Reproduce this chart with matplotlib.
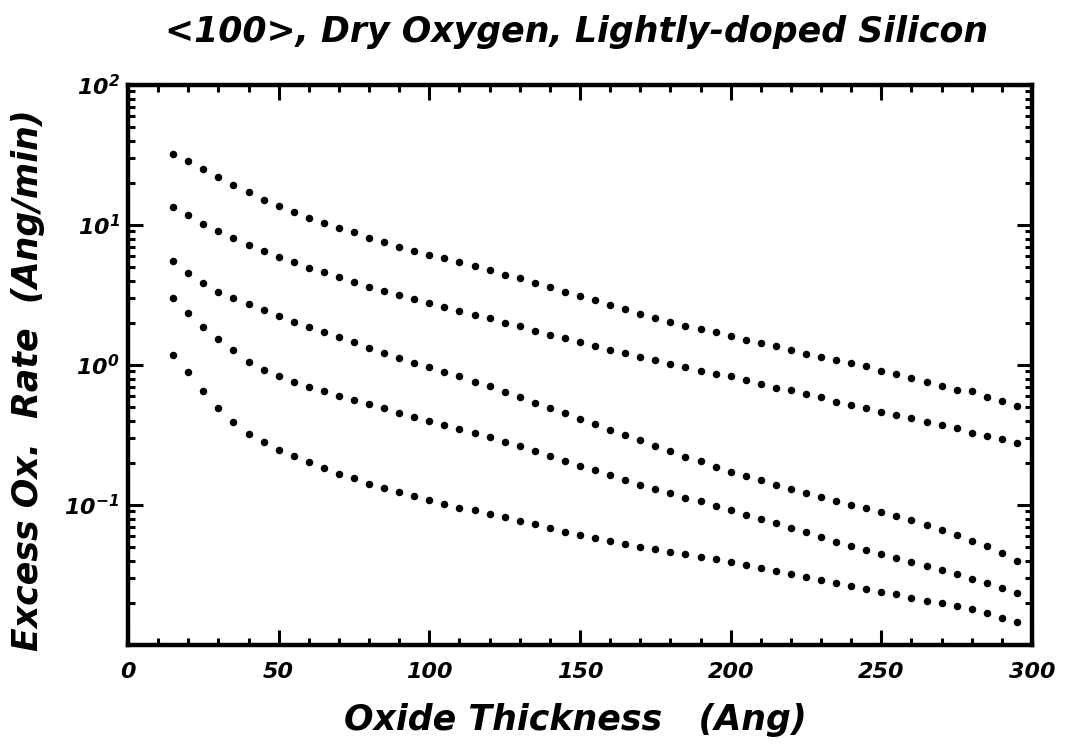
import numpy as np
import matplotlib
matplotlib.use("Agg")
import matplotlib.pyplot as plt
from matplotlib.ticker import MultipleLocator, LogLocator, NullFormatter

# plotter-style lettering: bold oblique everywhere, including the 10^n labels
plt.rcParams['font.family'] = ['DejaVu Sans']
plt.rcParams['font.weight'] = 'bold'
plt.rcParams['font.style'] = 'italic'
plt.rcParams['mathtext.fontset'] = 'custom'
plt.rcParams['mathtext.rm'] = 'DejaVu Sans:italic:bold'
plt.rcParams['mathtext.bf'] = 'DejaVu Sans:italic:bold'
plt.rcParams['mathtext.it'] = 'DejaVu Sans:italic:bold'
plt.rcParams['mathtext.default'] = 'bf'

# oxide thickness grid (Ang), one point every 5 Ang
thickness = np.arange(15, 300, 5)

# excess oxidation rate (Ang/min), one list per curve, top to bottom
rate_1 = [32.3, 28.6, 25.1, 22.0, 19.3, 17.1, 15.2, 13.6, 12.4, 11.2,
          10.4, 9.48, 8.88, 8.09, 7.61, 7.02, 6.57, 6.13, 5.77, 5.40,
          5.06, 4.77, 4.42, 4.21, 3.83, 3.62, 3.35, 3.10, 2.90, 2.70,
          2.51, 2.31, 2.17, 2.03, 1.90, 1.80, 1.71, 1.61, 1.51, 1.43,
          1.36, 1.28, 1.20, 1.14, 1.09, 1.04, 0.984, 0.907, 0.868, 0.809,
          0.758, 0.713, 0.668, 0.647, 0.593, 0.556, 0.512]
rate_2 = [13.4, 11.8, 10.2, 9.07, 8.09, 7.25, 6.51, 5.93, 5.47, 4.95,
          4.62, 4.26, 3.94, 3.63, 3.39, 3.14, 2.95, 2.75, 2.58, 2.42,
          2.29, 2.15, 2.01, 1.90, 1.76, 1.65, 1.55, 1.45, 1.36, 1.28,
          1.22, 1.14, 1.09, 1.02, 0.968, 0.907, 0.859, 0.832, 0.779, 0.730,
          0.690, 0.662, 0.620, 0.586, 0.547, 0.518, 0.495, 0.462, 0.437, 0.416,
          0.394, 0.375, 0.352, 0.329, 0.309, 0.295, 0.277]
rate_3 = [5.49, 4.54, 3.83, 3.35, 3.00, 2.72, 2.47, 2.24, 2.04, 1.87,
          1.71, 1.58, 1.46, 1.33, 1.22, 1.13, 1.03, 0.968, 0.892, 0.832,
          0.758, 0.706, 0.643, 0.593, 0.538, 0.490, 0.457, 0.412, 0.377, 0.344,
          0.317, 0.292, 0.265, 0.242, 0.220, 0.205, 0.187, 0.172, 0.161, 0.150,
          0.140, 0.131, 0.122, 0.114, 0.107, 0.100, 0.0952, 0.0892, 0.0836, 0.0777,
          0.0718, 0.0665, 0.0613, 0.0556, 0.0506, 0.0451, 0.0401]
rate_4 = [3.00, 2.37, 1.88, 1.54, 1.27, 1.05, 0.917, 0.832, 0.758, 0.698,
          0.651, 0.603, 0.562, 0.523, 0.490, 0.457, 0.423, 0.399, 0.373, 0.350,
          0.326, 0.305, 0.281, 0.265, 0.242, 0.225, 0.207, 0.191, 0.177, 0.163,
          0.152, 0.140, 0.131, 0.121, 0.113, 0.106, 0.0984, 0.0917, 0.0849, 0.0792,
          0.0742, 0.0684, 0.0644, 0.0586, 0.0547, 0.0512, 0.0480, 0.0447, 0.0419, 0.0394,
          0.0369, 0.0346, 0.0320, 0.0297, 0.0275, 0.0254, 0.0235]
rate_5 = [1.17, 0.892, 0.654, 0.490, 0.390, 0.320, 0.280, 0.246, 0.223, 0.202,
          0.184, 0.167, 0.155, 0.142, 0.133, 0.124, 0.116, 0.108, 0.101, 0.0957,
          0.0914, 0.0868, 0.0822, 0.0770, 0.0730, 0.0687, 0.0646, 0.0613, 0.0583, 0.0556,
          0.0529, 0.0504, 0.0483, 0.0464, 0.0446, 0.0428, 0.0412, 0.0394, 0.0374, 0.0353,
          0.0337, 0.0323, 0.0305, 0.0289, 0.0275, 0.0262, 0.0250, 0.0239, 0.0230, 0.0218,
          0.0207, 0.0199, 0.0189, 0.0180, 0.0169, 0.0157, 0.0146]

x_ticks = [0, 50, 100, 150, 200, 250, 300]

fig = plt.figure(figsize=(10.65, 7.55), dpi=100)
ax = fig.add_axes([0.1202, 0.1457, 0.8488, 0.7417])

for rate in (rate_1, rate_2, rate_3, rate_4, rate_5):
    ax.plot(thickness, rate, linestyle='none', marker='o',
            markersize=4.4, color='black')

ax.set_yscale('log')
ax.set_xlim(0, 300)
ax.set_ylim(0.01, 100)

ax.set_xticks(x_ticks)
ax.xaxis.set_minor_locator(MultipleLocator(10))
ax.set_yticks([0.1, 1, 10, 100])
ax.yaxis.set_minor_locator(LogLocator(base=10, subs=np.arange(2, 10)))
ax.yaxis.set_minor_formatter(NullFormatter())

ax.tick_params(which='both', direction='in', top=True, right=True,
               width=2.2, color='black')
ax.tick_params(which='major', length=11, labelsize=16)
ax.tick_params(which='minor', length=5)
ax.tick_params(axis='x', pad=12)
ax.tick_params(axis='y', pad=6)

for spine in ax.spines.values():
    spine.set_linewidth(3.2)

fig.text(0.541, 0.957, '<100>, Dry Oxygen, Lightly-doped Silicon',
         ha='center', va='center', fontsize=25)
fig.text(0.54, 0.047, 'Oxide Thickness   (Ang)',
         ha='center', va='center', fontsize=25)
fig.text(0.026, 0.497, 'Excess Ox.  Rate  (Ang/min)', rotation=90,
         ha='center', va='center', fontsize=25)

fig.savefig('out.png', dpi=100, facecolor='white')
